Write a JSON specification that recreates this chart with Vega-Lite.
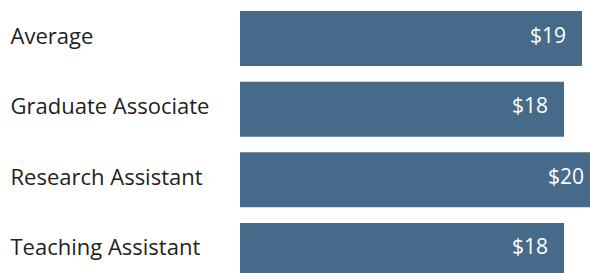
{
  "$schema": "https://vega.github.io/schema/vega-lite/v6.json",
  "autosize": {"type": "none"},
  "padding": {"left": 240, "top": 0, "right": 0, "bottom": 0},
  "width": 350,
  "height": 273,
  "background": "white",
  "config": {"view": {"stroke": null}},
  "data": {
    "values": [
      {"role": "Average", "wage": 19},
      {"role": "Graduate Associate", "wage": 18},
      {"role": "Research Assistant", "wage": 20},
      {"role": "Teaching Assistant", "wage": 18}
    ]
  },
  "encoding": {
    "y": {
      "field": "role",
      "type": "nominal",
      "sort": null,
      "scale": {"range": [0, 289], "paddingInner": 0.222, "paddingOuter": 0.156},
      "axis": {
        "title": null,
        "domain": false,
        "ticks": false,
        "tickSize": 0,
        "labelAlign": "left",
        "labelPadding": 230,
        "labelOffset": -2,
        "labelFont": "Open Sans",
        "labelFontSize": 22,
        "labelColor": "#231f20",
        "labelLimit": 0
      }
    },
    "x": {
      "field": "wage",
      "type": "quantitative",
      "scale": {"domain": [0, 20], "range": [0, 360]},
      "axis": null
    }
  },
  "layer": [
    {"mark": {"type": "bar", "color": "#466b8a"}},
    {
      "mark": {"type": "text", "align": "right", "dx": -16, "dy": -2, "color": "white", "font": "Open Sans", "fontSize": 21, "baseline": "middle"},
      "encoding": {"text": {"field": "wage", "type": "quantitative", "format": "$,.0f"}}
    }
  ]
}
